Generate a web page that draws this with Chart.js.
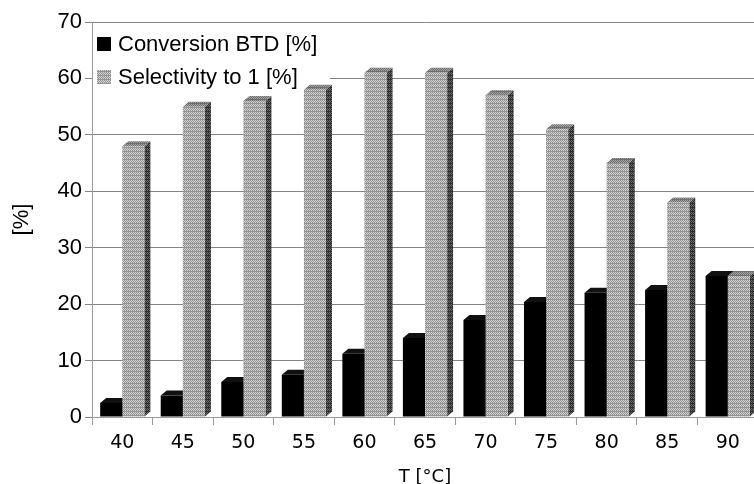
<!DOCTYPE html>
<html>
<head>
<meta charset="utf-8">
<script src="https://cdn.jsdelivr.net/npm/chart.js@4.4.1/dist/chart.umd.min.js"></script>
<style>
  html, body { margin: 0; padding: 0; overflow: hidden; background: #fff; }
  #wrap { width: 758px; height: 484px; }
</style>
</head>
<body>
<div id="wrap"><canvas id="chart"></canvas></div>
<script>
// data
const temps = ["40", "45", "50", "55", "60", "65", "70", "75", "80", "85", "90"];
const conversion = [2.5, 3.8, 6.2, 7.5, 11.2, 14, 17.2, 20.4, 22, 22.5, 25];
const selectivity = [48, 55, 56, 58, 61, 61, 57, 51, 45, 38, 25];
const seriesNames = ["Conversion BTD [%]", "Selectivity to 1 [%]"];
const yMin = 0, yMax = 70, yStep = 10;

// small checkered fill like the printed grey bars
function makePattern(light, dark) {
  const c = document.createElement("canvas");
  c.width = 4;
  c.height = 4;
  const g = c.getContext("2d");
  g.fillStyle = light;
  g.fillRect(0, 0, 4, 4);
  g.fillStyle = dark;
  g.fillRect(0, 0, 1, 1);
  g.fillRect(2, 0, 1, 1);
  g.fillRect(1, 1, 1, 1);
  g.fillRect(3, 1, 1, 1);
  g.fillRect(0, 2, 1, 1);
  g.fillRect(2, 2, 1, 1);
  g.fillRect(0, 3, 4, 1);
  return g.createPattern(c, "repeat");
}

const greyFront = makePattern("#d2d2d2", "#939393");
const greySide = makePattern("#6a6a6a", "#2e2e2e");
const greyTop = makePattern("#a4a4a4", "#6e6e6e");

const depthX = 6, depthY = -5;

// fake 3D: top + side faces behind each bar, legend box over the grid
const depthPlugin = {
  id: "depth",
  beforeDatasetsDraw(chart) {
    const ctx = chart.ctx;
    // legend background hides the grid lines
    ctx.save();
    ctx.fillStyle = "#fff";
    ctx.fillRect(93, 24, 237, 64);
    ctx.restore();

    chart.data.datasets.forEach((ds, i) => {
      const meta = chart.getDatasetMeta(i);
      meta.data.forEach(bar => {
        const l = bar.x - bar.width / 2;
        const r = bar.x + bar.width / 2;
        const t = bar.y;
        const b = bar.base;
        ctx.save();
        // side
        ctx.fillStyle = ds.sideColor;
        ctx.beginPath();
        ctx.moveTo(r, t);
        ctx.lineTo(r + depthX, t + depthY);
        ctx.lineTo(r + depthX, b + depthY);
        ctx.lineTo(r, b);
        ctx.closePath();
        ctx.fill();
        // top
        ctx.fillStyle = ds.topColor;
        ctx.beginPath();
        ctx.moveTo(l, t);
        ctx.lineTo(l + depthX, t + depthY);
        ctx.lineTo(r + depthX, t + depthY);
        ctx.lineTo(r, t);
        ctx.closePath();
        ctx.fill();
        ctx.restore();
      });
    });
  },
  afterDatasetsDraw(chart) {
    const ctx = chart.ctx;
    ctx.save();
    ctx.font = "22px 'Liberation Sans', Arial, sans-serif";
    ctx.textBaseline = "middle";
    const rows = [44, 77];
    chart.data.datasets.forEach((ds, i) => {
      ctx.fillStyle = ds.backgroundColor;
      ctx.fillRect(97, rows[i] - 7, 14, 14);
      ctx.fillStyle = "#000";
      ctx.fillText(ds.label, 118, rows[i] + 1);
    });
    ctx.restore();
  }
};

new Chart(document.getElementById("chart"), {
  type: "bar",
  data: {
    labels: temps,
    datasets: [
      {
        label: seriesNames[0],
        data: conversion,
        backgroundColor: "#000",
        sideColor: "#111",
        topColor: "#111"
      },
      {
        label: seriesNames[1],
        data: selectivity,
        backgroundColor: greyFront,
        sideColor: greySide,
        topColor: greyTop
      }
    ]
  },
  options: {
    responsive: true,
    maintainAspectRatio: false,
    animation: false,
    devicePixelRatio: 1,
    layout: { padding: { top: 22, left: 0, right: 0, bottom: 0 } },
    datasets: {
      bar: { categoryPercentage: 0.73, barPercentage: 1.0, borderWidth: 0 }
    },
    plugins: {
      legend: { display: false },
      tooltip: { enabled: false }
    },
    scales: {
      x: {
        grid: {
          display: true,
          drawOnChartArea: false,
          drawTicks: true,
          tickLength: 8,
          offset: true,
          color: "#9a9a9a"
        },
        border: { display: true, color: "#9a9a9a" },
        ticks: {
          color: "#000",
          padding: 7,
          font: { family: "'DejaVu Sans', Verdana, sans-serif", size: 19 }
        },
        title: {
          display: true,
          text: "T [°C]",
          color: "#000",
          padding: { top: 0, bottom: -4 },
          font: { family: "'DejaVu Sans', Verdana, sans-serif", size: 18 }
        },
        afterFit(scale) { scale.height = 67; }
      },
      y: {
        min: yMin,
        max: yMax,
        grid: {
          color: "#858585",
          tickLength: 7,
          drawTicks: true
        },
        border: { display: true, color: "#9a9a9a" },
        ticks: {
          stepSize: yStep,
          color: "#000",
          padding: 3,
          font: { family: "'Liberation Sans', Arial, sans-serif", size: 22 }
        },
        title: {
          display: true,
          text: "[%]",
          color: "#000",
          padding: { top: 9, bottom: 0 },
          font: { family: "'Liberation Sans', Arial, sans-serif", size: 22 }
        },
        afterFit(scale) { scale.width = 92; }
      }
    }
  },
  plugins: [depthPlugin]
});
</script>
</body>
</html>
